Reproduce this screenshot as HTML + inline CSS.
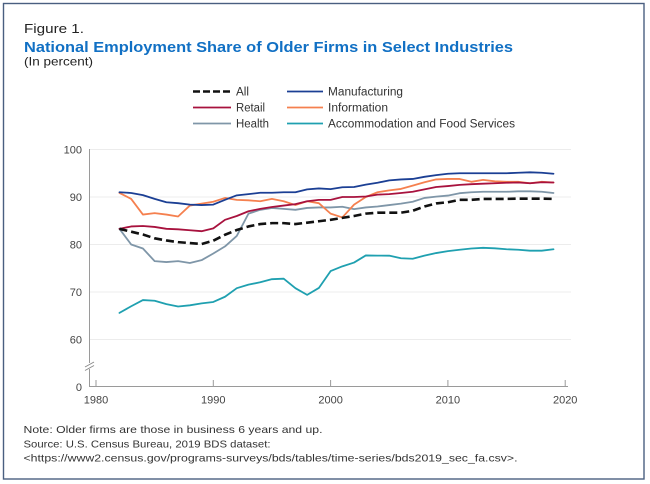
<!DOCTYPE html>
<html><head><meta charset="utf-8"><style>
html,body{margin:0;padding:0;background:#fff;}
svg{display:block;font-family:"Liberation Sans",Arial,sans-serif;}
</style></head><body>
<svg width="650" height="484" viewBox="0 0 650 484" xmlns="http://www.w3.org/2000/svg">
<rect x="0" y="0" width="650" height="484" fill="#fff"/>
<rect x="3.5" y="3.5" width="640.5" height="475.5" fill="none" stroke="#4a5f80" stroke-width="1.4"/>

<text x="24" y="33" font-size="13" fill="#222" textLength="60" lengthAdjust="spacingAndGlyphs">Figure 1.</text>
<text x="24" y="52" font-size="15" font-weight="bold" fill="#1170c4" textLength="489" lengthAdjust="spacingAndGlyphs">National Employment Share of Older Firms in Select Industries</text>
<text x="24" y="65.5" font-size="12" fill="#222" textLength="69" lengthAdjust="spacingAndGlyphs">(In percent)</text>

<!-- legend -->
<g font-size="11.5" fill="#333">
<line x1="193" y1="91.5" x2="231" y2="91.5" stroke="#111" stroke-width="2.6" stroke-dasharray="7,3"/>
<text x="236" y="95.5" textLength="13" lengthAdjust="spacingAndGlyphs">All</text>
<line x1="193" y1="107.5" x2="231" y2="107.5" stroke="#a8123e" stroke-width="1.8"/>
<text x="236" y="111.5" textLength="29" lengthAdjust="spacingAndGlyphs">Retail</text>
<line x1="193" y1="123.5" x2="231" y2="123.5" stroke="#7f96a8" stroke-width="1.8"/>
<text x="236" y="127.5" textLength="33" lengthAdjust="spacingAndGlyphs">Health</text>
<line x1="287" y1="91.5" x2="323" y2="91.5" stroke="#1b3f94" stroke-width="1.8"/>
<text x="328" y="95.5" textLength="75" lengthAdjust="spacingAndGlyphs">Manufacturing</text>
<line x1="287" y1="107.5" x2="323" y2="107.5" stroke="#f5804f" stroke-width="1.8"/>
<text x="328" y="111.5" textLength="60" lengthAdjust="spacingAndGlyphs">Information</text>
<line x1="287" y1="123.5" x2="323" y2="123.5" stroke="#1fa0b0" stroke-width="1.8"/>
<text x="328" y="127.5" textLength="187" lengthAdjust="spacingAndGlyphs">Accommodation and Food Services</text>
</g>

<!-- grid -->
<g stroke="#ececec" stroke-width="1">
<line x1="90" y1="149.5" x2="571" y2="149.5"/>
<line x1="90" y1="197" x2="571" y2="197"/>
<line x1="90" y1="244.5" x2="571" y2="244.5"/>
<line x1="90" y1="292" x2="571" y2="292"/>
<line x1="90" y1="339.5" x2="571" y2="339.5"/>
</g>
<!-- axes -->
<g stroke="#9a9a9a" stroke-width="1">
<line x1="89.5" y1="149" x2="89.5" y2="387"/>
<line x1="89.5" y1="386.5" x2="568" y2="386.5"/>
<line x1="96" y1="380" x2="96" y2="387"/>
<line x1="213.3" y1="380" x2="213.3" y2="387"/>
<line x1="330.6" y1="380" x2="330.6" y2="387"/>
<line x1="447.9" y1="380" x2="447.9" y2="387"/>
<line x1="565.2" y1="380" x2="565.2" y2="387"/>
</g>
<!-- axis break -->
<rect x="86" y="363" width="8" height="6" fill="#fff"/>
<g stroke="#8a8a8a" stroke-width="1">
<line x1="85" y1="367" x2="94" y2="362"/>
<line x1="85" y1="370.5" x2="94" y2="365.5"/>
</g>

<!-- tick labels -->
<g font-size="11" fill="#444" text-anchor="end">
<text x="82" y="153.3">100</text>
<text x="82" y="200.8">90</text>
<text x="82" y="248.3">80</text>
<text x="82" y="295.8">70</text>
<text x="82" y="343.3">60</text>
<text x="82" y="390.8">0</text>
</g>
<g font-size="11" fill="#444" text-anchor="middle">
<text x="96" y="403.5">1980</text>
<text x="213.3" y="403.5">1990</text>
<text x="330.6" y="403.5">2000</text>
<text x="447.9" y="403.5">2010</text>
<text x="565.2" y="403.5">2020</text>
</g>

<!-- series -->
<g transform="matrix(11.73 0 0 -4.75 96 624.5)" fill="none" stroke-linejoin="round" stroke-linecap="round">
<polyline vector-effect="non-scaling-stroke" stroke="#7f96a8" stroke-width="1.8" points="2,83.3 3,80 4,79.15 5,76.5 6,76.3 7,76.5 8,76.1 9,76.7 10,78.1 11,79.6 12,81.8 13,86.5 14,87.3 15,87.7 16,87.5 17,87.3 18,87.7 19,87.8 20,87.8 21,87.95 22,87.45 23,87.8 24,88 25,88.3 26,88.6 27,89 28,89.8 29,90.07 30,90.3 31,90.8 32,91 33,91.1 34,91.1 35,91.1 36,91.2 37,91.2 38,91.1 39,90.85"/>
<polyline vector-effect="non-scaling-stroke" stroke="#1fa0b0" stroke-width="1.8" points="2,65.6 3,67 4,68.3 5,68.15 6,67.45 7,66.95 8,67.2 9,67.6 10,67.9 11,69 12,70.8 13,71.55 14,72.05 15,72.7 16,72.8 17,70.8 18,69.4 19,70.85 20,74.4 21,75.4 22,76.2 23,77.7 24,77.65 25,77.65 26,77.1 27,77 28,77.65 29,78.2 30,78.6 31,78.9 32,79.15 33,79.3 34,79.2 35,79 36,78.9 37,78.7 38,78.7 39,79"/>
<polyline vector-effect="non-scaling-stroke" stroke="#f5804f" stroke-width="1.8" points="2,90.85 3,89.6 4,86.3 5,86.6 6,86.3 7,85.9 8,88.2 9,88.6 10,89 11,89.8 12,89.4 13,89.3 14,89.1 15,89.6 16,89.1 17,88.3 18,89.1 19,88.7 20,86.5 21,85.7 22,88.4 23,90 24,91 25,91.4 26,91.7 27,92.4 28,93.1 29,93.7 30,93.8 31,93.8 32,93.2 33,93.6 34,93.3 35,93.2 36,93.2 37,92.9 38,93.2 39,93.05"/>
<polyline vector-effect="non-scaling-stroke" stroke="#a8123e" stroke-width="1.8" points="2,83.3 3,83.8 4,83.9 5,83.7 6,83.3 7,83.2 8,83 9,82.8 10,83.4 11,85.2 12,86 13,87 14,87.5 15,87.9 16,88.2 17,88.5 18,89.1 19,89.4 20,89.4 21,90 22,90 23,90.1 24,90.5 25,90.6 26,90.85 27,91.1 28,91.6 29,92.1 30,92.3 31,92.55 32,92.7 33,92.8 34,92.9 35,93 36,93.05 37,92.9 38,93.1 39,93.05"/>
<polyline vector-effect="non-scaling-stroke" stroke="#1b3f94" stroke-width="1.8" points="2,91 3,90.85 4,90.4 5,89.6 6,88.9 7,88.7 8,88.4 9,88.3 10,88.4 11,89.4 12,90.35 13,90.6 14,90.9 15,90.9 16,91 17,91 18,91.6 19,91.8 20,91.65 21,92.05 22,92.1 23,92.6 24,93 25,93.5 26,93.7 27,93.8 28,94.25 29,94.6 30,94.9 31,95 32,95 33,95 34,95 35,95 36,95.1 37,95.2 38,95.1 39,94.9"/>
</g>
<polyline fill="none" stroke="#111" stroke-width="2.6" stroke-dasharray="8,4" stroke-linejoin="round" points="119.46,228.8 131.19,231.68 142.92,234.53 154.65,238.33 166.38,240.46 178.11,242.13 189.84,243.08 201.57,244.03 213.3,240.7 225.03,234.76 236.76,230.01 248.49,226.45 260.22,224.08 271.95,223.13 283.68,223.13 295.41,224.08 307.14,222.65 318.87,221.23 330.6,219.8 342.33,217.9 354.06,216 365.79,213.63 377.52,212.68 389.25,212.68 400.98,212.68 412.71,210.78 424.44,206.5 436.17,203.41 447.9,202.23 459.63,199.85 471.36,199.85 483.09,198.9 494.82,198.9 506.55,198.9 518.28,198.66 530.01,198.66 541.74,198.66 553.47,198.9"/>

<!-- notes -->
<g font-size="10.5" fill="#333">
<text x="23.5" y="433" textLength="299" lengthAdjust="spacingAndGlyphs">Note: Older firms are those in business 6 years and up.</text>
<text x="23.5" y="447.5" textLength="247" lengthAdjust="spacingAndGlyphs">Source: U.S. Census Bureau, 2019 BDS dataset:</text>
<text x="23.5" y="461.5" textLength="494" lengthAdjust="spacingAndGlyphs">&lt;https://www2.census.gov/programs-surveys/bds/tables/time-series/bds2019_sec_fa.csv&gt;.</text>
</g>
</svg>
</body></html>
